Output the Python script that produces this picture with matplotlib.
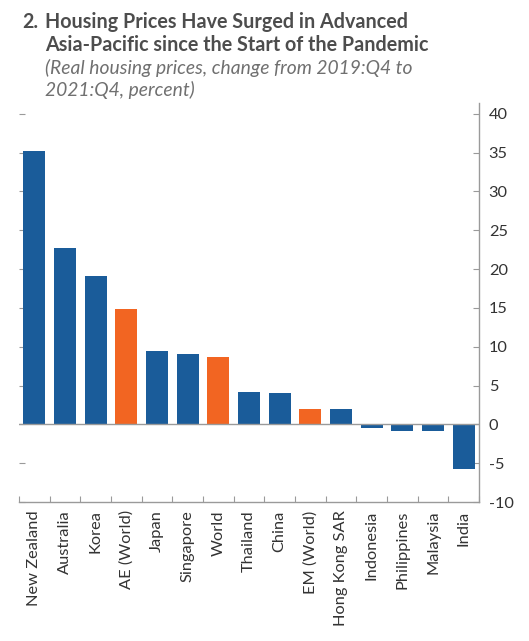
import matplotlib
matplotlib.use("Agg")
import matplotlib.pyplot as plt
import numpy as np

categories = ["New Zealand", "Australia", "Korea", "AE (World)", "Japan", "Singapore",
              "World", "Thailand", "China", "EM (World)", "Hong Kong SAR", "Indonesia",
              "Philippines", "Malaysia", "India"]
values = [35.2, 22.7, 19.1, 14.8, 9.4, 9.1, 8.7, 4.2, 4.1, 2.0, 2.0, -0.45, -0.8, -0.9, -5.7]
is_aggregate = [False, False, False, True, False, False, True, False, False, True,
                False, False, False, False, False]
yticks = [-10, -5, 0, 5, 10, 15, 20, 25, 30, 35, 40]

BLUE = "#1a5c9a"
ORANGE = "#f26522"

plt.rcParams['font.family'] = ['Lato', 'DejaVu Sans']
plt.rcParams['axes.unicode_minus'] = False

W, H = 529, 641
fig = plt.figure(figsize=(W / 100, H / 100), dpi=100)
ax = fig.add_axes([19 / W, 1 - 502 / H, (479 - 19) / W, (502 - 103) / H])

x = np.arange(len(categories))
colors = [ORANGE if a else BLUE for a in is_aggregate]
ax.bar(x, values, width=0.72, color=colors, zorder=2)
ax.axhline(0, color="#9a9a9a", lw=1.0, zorder=3)

ax.set_xlim(-0.5, len(categories) - 0.5)
ax.set_ylim(-10, 41.4)

for s in ["top", "left"]:
    ax.spines[s].set_visible(False)
for s in ["right", "bottom"]:
    ax.spines[s].set_color("#9a9a9a")
    ax.spines[s].set_linewidth(1.0)

ax.yaxis.tick_right()
ax.set_yticks(yticks)
ax.set_yticklabels([str(v) for v in yticks])
ax.tick_params(axis="y", which="major", direction="in", length=4, width=0.8,
               color="#9a9a9a", pad=7, labelsize=11.8, labelcolor="#333333",
               right=True, left=True)

ax.set_xticks(x)
ax.set_xticklabels(categories, rotation=90, va="top", ha="center")
ax.tick_params(axis="x", which="major", length=0, pad=6, labelsize=11.8, labelcolor="#333333")
ax.set_xticks(np.arange(-0.5, len(categories) + 0.5, 1), minor=True)
ax.tick_params(axis="x", which="minor", direction="in", length=4.5, width=0.8, color="#9a9a9a")

# faint left ticks
for t in ax.yaxis.get_major_ticks():
    t.tick1line.set_color("#d8d8d8")

fig.text(22 / W, 1 - 28 / H, "2.", fontsize=14.2, fontweight="bold", color="#4d4d4d", va="baseline")
fig.text(45 / W, 1 - 28 / H, "Housing Prices Have Surged in Advanced", fontsize=14.2,
         fontweight="bold", color="#4d4d4d", va="baseline")
fig.text(45 / W, 1 - 51 / H, "Asia-Pacific since the Start of the Pandemic", fontsize=14.2,
         fontweight="bold", color="#4d4d4d", va="baseline")
fig.text(45 / W, 1 - 74 / H, "(Real housing prices, change from 2019:Q4 to", fontsize=13.9,
         style="italic", color="#707070", va="baseline")
fig.text(45 / W, 1 - 96 / H, "2021:Q4, percent)", fontsize=13.9,
         style="italic", color="#707070", va="baseline")

fig.savefig("out.png", dpi=100, facecolor="white")
